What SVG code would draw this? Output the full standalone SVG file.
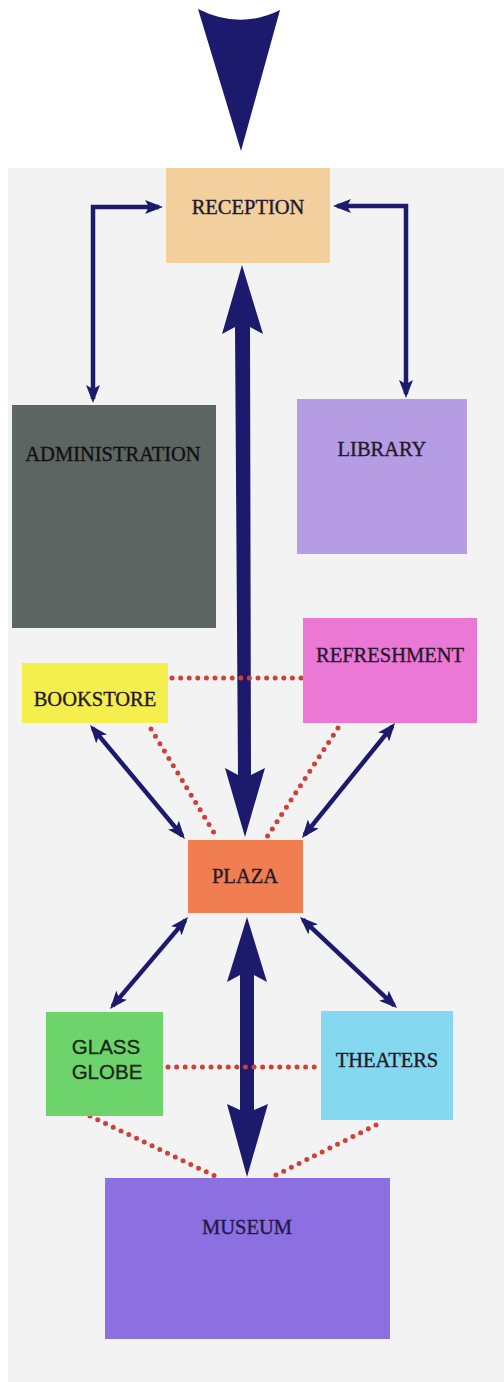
<svg xmlns="http://www.w3.org/2000/svg" width="504" height="1382" viewBox="0 0 504 1382">
<style>
.lbl{font-family:"Liberation Serif","Times New Roman",serif;font-size:20.5px;fill:#24182a;stroke:#24182a;stroke-width:0.35;text-anchor:middle}
.sans{font-family:"Liberation Sans",Arial,sans-serif;font-size:20.5px;fill:#1a261a;stroke:#1a261a;stroke-width:0.3;text-anchor:middle}
.thin{fill:none;stroke:#1c1a6d;stroke-width:4.5;marker-start:url(#ah);marker-end:url(#ah)}
.dots{fill:none;stroke:#d04038;stroke-width:5;stroke-linecap:round;stroke-dasharray:0 8.6}
.thick{fill:#1c1a6d}
</style>
<defs>
<marker id="ah" markerUnits="userSpaceOnUse" viewBox="0 0 18 14" refX="14" refY="7" markerWidth="18" markerHeight="14" orient="auto-start-reverse">
<path d="M0,0 L18,7 L0,14 L4,7 Z" fill="#1c1a6d"/>
</marker>
</defs>
<rect x="0" y="0" width="504" height="1382" fill="#ffffff"/>
<rect x="8" y="168" width="496" height="1214" fill="#f3f3f3"/>
<path d="M198,9 Q240,30 280,10 L241,151 Z" fill="#1c1a6d"/>
<g id="connectors">
<polygon class="thick" points="242,265 263,334 250,327 251,775 265,768 245,837 225,768 238,775 235,327 222,334"/>
<polygon class="thick" points="247,917 267,982 254,975 254,1110 268,1104 247,1177 227,1104 240,1110 240,975 227,982"/>
<path class="thin" d="M93,399 L93,207 L159,207"/>
<path class="thin" d="M337,206 L406,206 L406,394"/>
<path class="thin" d="M92.6,728.1 L182.4,835.9"/>
<path class="thin" d="M392.5,726.1 L304.5,834.9"/>
<path class="thin" d="M185.4,920.1 L112.6,1005.9"/>
<path class="thin" d="M302.9,919.7 L394.1,1005.3"/>
<path class="dots" d="M172,678 L303,678"/>
<path class="dots" d="M151,729 L216,836"/>
<path class="dots" d="M338,728 L267,837"/>
<path class="dots" d="M168,1067 L318,1067"/>
<path class="dots" d="M90,1116 L217,1177"/>
<path class="dots" d="M376,1125 L272,1177"/>
</g>
<g id="reception"><rect x="166" y="168" width="164" height="95" fill="#f2cf9c"/><text class="lbl" x="248" y="214">RECEPTION</text></g>
<g id="administration"><rect x="12" y="405" width="204" height="223" fill="#5d6562"/><text class="lbl" x="113" y="461" style="fill:#111;stroke:#111">ADMINISTRATION</text></g>
<g id="library"><rect x="297" y="399" width="170" height="155" fill="#b69ce2"/><text class="lbl" x="382" y="456">LIBRARY</text></g>
<g id="refreshment"><rect x="303" y="618" width="174" height="105" fill="#ec78d6"/><text class="lbl" x="390" y="662">REFRESHMENT</text></g>
<g id="bookstore"><rect x="22" y="663" width="146" height="60" fill="#f4ef4c"/><text class="lbl" x="95" y="706">BOOKSTORE</text></g>
<g id="plaza"><rect x="188" y="840" width="115" height="73" fill="#f07e50"/><text class="lbl" x="245" y="883">PLAZA</text></g>
<g id="glass-globe"><rect x="46" y="1012" width="117" height="104" fill="#6dd36b"/><text class="sans" x="106" y="1054">GLASS</text><text class="sans" x="107" y="1079">GLOBE</text></g>
<g id="theaters"><rect x="321" y="1011" width="132" height="109" fill="#84d9f1"/><text class="lbl" x="387" y="1067">THEATERS</text></g>
<g id="museum"><rect x="105" y="1178" width="285" height="161" fill="#8c6fe0"/><text class="lbl" x="247" y="1234" style="fill:#1e1a48;stroke:#1e1a48">MUSEUM</text></g>
</svg>
